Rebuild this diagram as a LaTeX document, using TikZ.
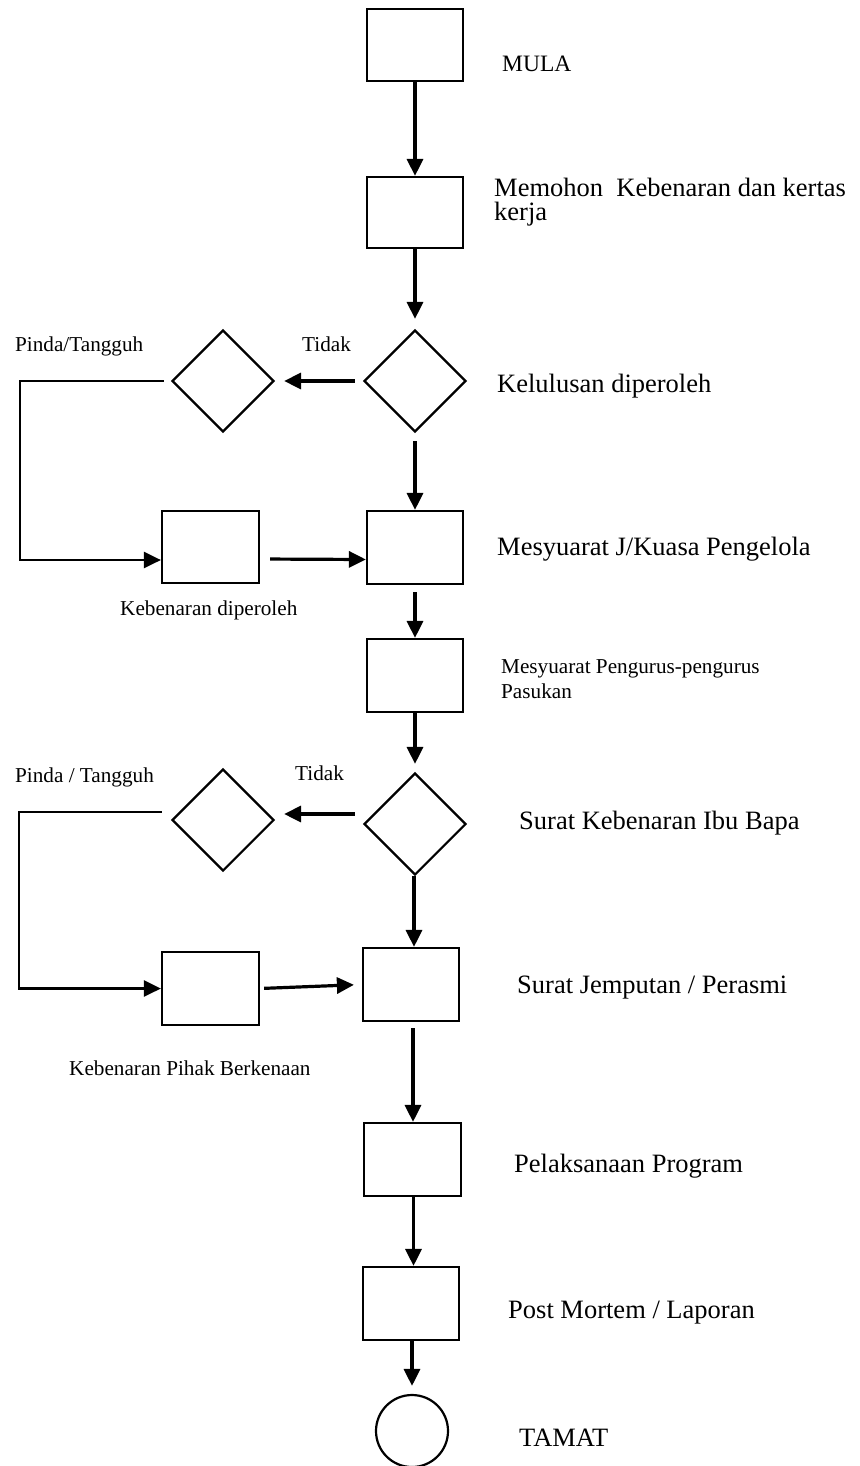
\documentclass[tikz,border=0pt]{standalone}
\usepackage{fontspec}
\setmainfont{Liberation Serif}
\usetikzlibrary{arrows.meta,shapes.geometric}
\begin{document}
\begin{tikzpicture}[x=1pt,y=-1pt,
  box/.style={draw,line width=2.2pt,rectangle,minimum width=96pt,minimum height=72pt,inner sep=0pt},
  dec/.style={draw,line width=2.2pt,diamond,minimum width=102pt,minimum height=102pt,inner sep=0pt},
  endc/.style={draw,line width=2.2pt,circle,minimum size=72pt,inner sep=0pt},
  arr/.style={line width=3.2pt,-{Triangle[length=17pt,width=16pt]}},
  looparr/.style={arr,line width=2.6pt},
  lbl/.style={anchor=base west,inner sep=0pt,font=\fontsize{26.5}{24}\selectfont,align=left},
  mlbl/.style={anchor=base west,inner sep=0pt,font=\fontsize{23.5}{24}\selectfont},
  slbl/.style={anchor=base west,inner sep=0pt,font=\fontsize{21.2}{25}\selectfont,align=left}]
\useasboundingbox[fill=white] (0,0) rectangle (859,1466);

% main column
\node[box] (b1) at (415,45) {};
\node[box,minimum height=71pt] (b2) at (415,212.5) {};
\node[dec] (d1) at (415,381) {};
\node[dec] (d2) at (223,381) {};
\node[box,minimum height=73pt] (b3) at (415,547.5) {};
\node[box,minimum width=97pt] (l1) at (210.5,547) {};
\node[box,minimum height=73pt] (b4) at (415,675.5) {};
\node[dec] (d3) at (415,824) {};
\node[dec] (d4) at (223,820) {};
\node[box,minimum height=73pt] (b5) at (411,984.5) {};
\node[box,minimum width=97pt,minimum height=73pt] (l2) at (210.5,988.5) {};
\node[box,minimum width=97pt,minimum height=73pt] (b6) at (412.5,1159.5) {};
\node[box,minimum height=73pt] (b7) at (411,1303.5) {};
\node[endc] (c) at (412,1431) {};

% vertical connectors
\draw[arr] (b1) -- (b2);
\draw[arr,shorten >=10pt] (b2) -- (d1);
\draw[arr,shorten <=8pt] (d1) -- (b3);
\draw[arr,shorten <=7pt] (b3) -- (b4);
\draw[arr,shorten >=8pt] (b4) -- (d3);
\draw[arr] ([xshift=-1pt]d3.south) -- ([xshift=-1pt]d3.south |- b5.north);
\draw[arr,shorten <=6pt] ([xshift=2pt]b5.south) -- ([xshift=2pt]b5.south |- b6.north);
\draw[arr] ([xshift=1pt]b6.south) -- ([xshift=1pt]b6.south |- b7.north);
\draw[arr,shorten >=8pt] ([xshift=1pt]b7.south) -- ([xshift=1pt]b7.south |- c.north);

% first loop
\draw[arr,shorten <=8pt,shorten >=9pt] (d1.west) -- (d2.east);
\coordinate (k1) at (20,381);
\draw[looparr] ([xshift=-7pt]d2.west) -- (k1) |- ([yshift=-13pt]l1.west);
\draw[arr,shorten <=10pt] ([yshift=-12pt]l1.east) -- ([yshift=-12pt]b3.west);

% second loop
\draw[arr,shorten <=8pt,shorten >=9pt] ([yshift=10pt]d3.west) -- ([yshift=6pt]d4.east);
\coordinate (k2) at (19,812);
\draw[looparr] ([xshift=-9pt,yshift=8pt]d4.west) -- (k2) |- (l2.west);
\draw[arr,shorten <=4pt,shorten >=8pt] (l2.east) -- (b5.west);

% labels
\node[mlbl] (tmula) at (502,72) {MULA};
\node[lbl] (t2) at (494,220) {Memohon\ \ Kebenaran dan kertas\\kerja};
\node[lbl] (t3) at (497,392) {Kelulusan diperoleh};
\node[slbl] (tdk1) at (302,351) {Tidak};
\node[slbl] (pt1) at (15,351) {Pinda/Tangguh};
\node[lbl] (t4) at (497,555) {Mesyuarat J/Kuasa Pengelola};
\node[slbl] (kd) at (120,615) {Kebenaran diperoleh};
\node[slbl] (t5) at (501,698) {Mesyuarat Pengurus-pengurus\\Pasukan};
\node[slbl] (tdk2) at (295,780) {Tidak};
\node[slbl] (pt2) at (15,782) {Pinda / Tangguh};
\node[lbl] (t6) at (519,829) {Surat Kebenaran Ibu Bapa};
\node[lbl] (t7) at (517,993) {Surat Jemputan / Perasmi};
\node[slbl] (kpb) at (69,1075) {Kebenaran Pihak Berkenaan};
\node[lbl] (t8) at (514,1172) {Pelaksanaan Program};
\node[lbl] (t9) at (508,1318) {Post Mortem / Laporan};
\node[lbl] (t10) at (519,1446) {TAMAT};
\end{tikzpicture}
\end{document}
